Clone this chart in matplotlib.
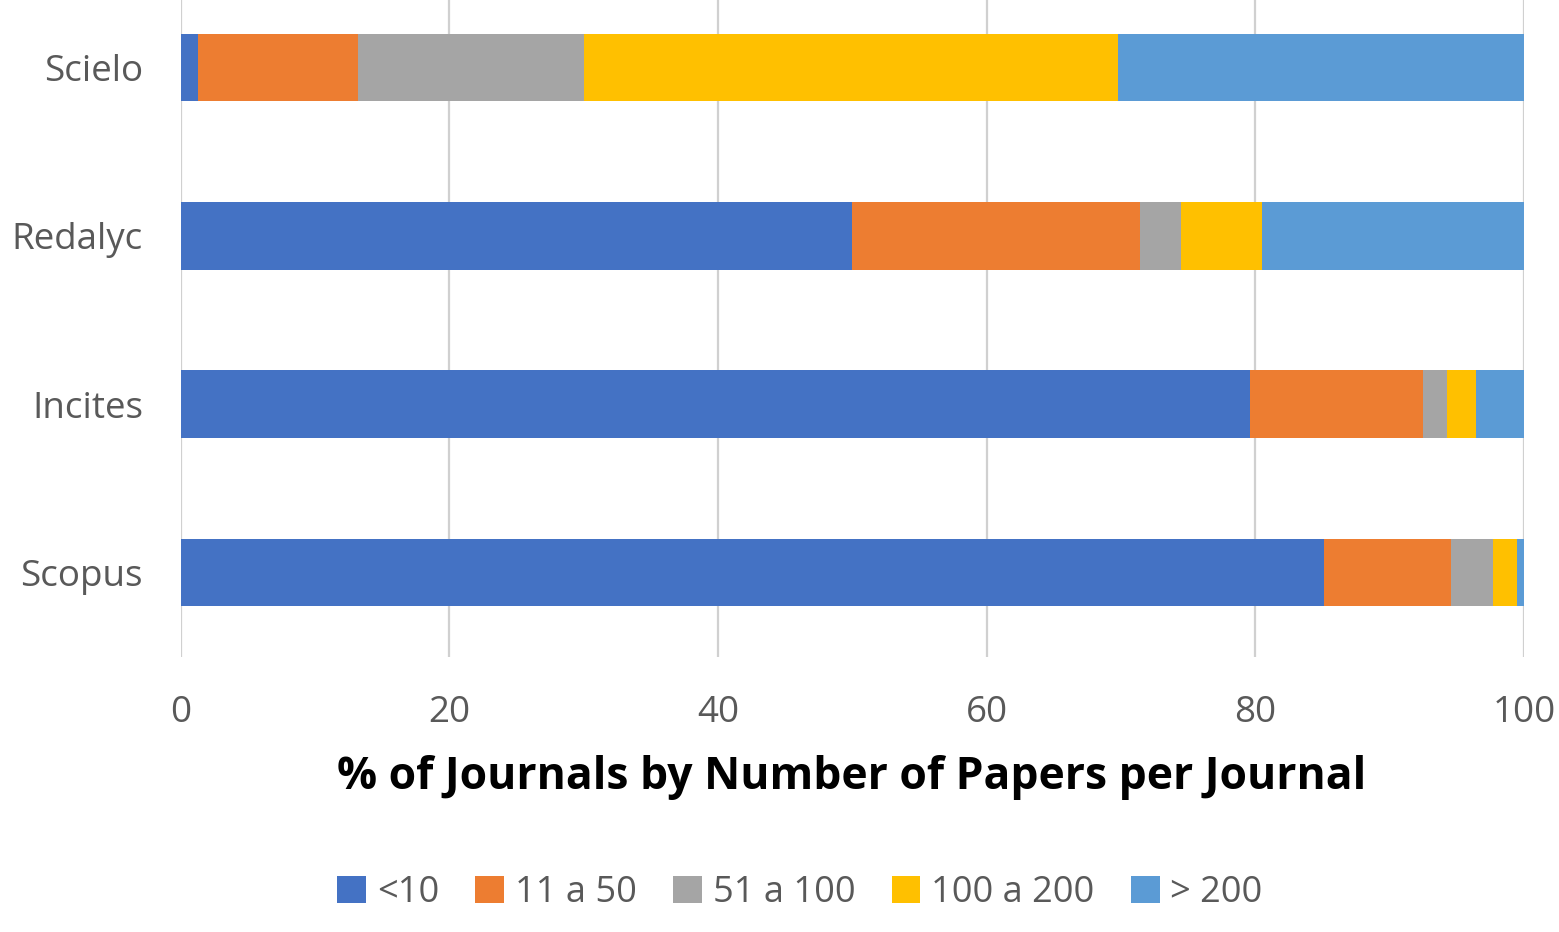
import matplotlib
matplotlib.use("Agg")
import matplotlib.pyplot as plt
import numpy as np
from matplotlib.patches import Patch

categories = ["Scielo", "Redalyc", "Incites", "Scopus"]
series_names = ["<10", "11 a 50", "51 a 100", "100 a 200", "> 200"]
lt10 = [1.3, 50.0, 79.6, 85.1]
s11_50 = [11.9, 21.4, 12.9, 9.5]
s51_100 = [16.8, 3.1, 1.8, 3.1]
s100_200 = [39.8, 6.0, 2.1, 1.8]
gt200 = [30.2, 19.5, 3.6, 0.5]
colors = ["#4472C4", "#ED7D31", "#A5A5A5", "#FFC000", "#5B9BD5"]
xticks = [0, 20, 40, 60, 80, 100]

plt.rcParams['font.family'] = ['Open Sans', 'DejaVu Sans']

W, H = 1559, 932
fig = plt.figure(figsize=(W / 100, H / 100), dpi=100)
left = 180.5 / W
right = 1524 / W
top_px = 0
bot_px = 656.5
ax = fig.add_axes([left, 1 - bot_px / H, right - left, (bot_px - top_px) / H])

y = np.arange(len(categories))
data = [lt10, s11_50, s51_100, s100_200, gt200]
cum = np.zeros(len(categories))
for vals, c, name in zip(data, colors, series_names):
    ax.barh(y, vals, left=cum, height=0.4, color=c, label=name, zorder=3)
    cum += np.array(vals)

ax.set_ylim(3.5, -0.5 + 16.5 / 168)
ax.set_xlim(0, 100)
ax.set_xticks(xticks)
ax.set_xticklabels([str(t) for t in xticks])
ax.set_yticks(y)
ax.set_yticklabels(categories)
ax.tick_params(axis='both', length=0, labelsize=26.5, labelcolor="#595959")
ax.tick_params(axis='x', pad=28)
ax.tick_params(axis='y', pad=27)
for s in ax.spines.values():
    s.set_visible(False)
ax.grid(axis='x', color="#D0D0D0", linewidth=1.6, zorder=0)
ax.set_axisbelow(True)

fig.text(852 / W, 1 - 778 / H, "% of Journals by Number of Papers per Journal",
         ha='center', va='center', fontsize=32, fontweight='bold', color="black")

handles = [Patch(facecolor=c, edgecolor='none') for c in colors]
fig.legend(handles, series_names, loc='center', bbox_to_anchor=(800 / W, 1 - 893 / H),
           ncol=5, frameon=False, fontsize=26, labelcolor="#595959",
           handlelength=0.8, handleheight=0.8, handletextpad=0.3, columnspacing=1.0)

fig.savefig("out.png", dpi=100)
